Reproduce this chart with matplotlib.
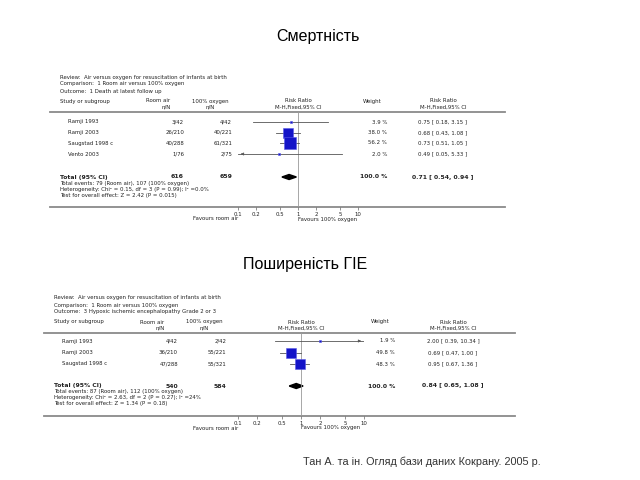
import numpy as np
import matplotlib
matplotlib.use('Agg')
import matplotlib.pyplot as plt
from matplotlib.patches import Polygon
from matplotlib.ticker import FixedLocator, FixedFormatter, NullLocator

# ---- data, panel 1 (mortality) ----
title_1 = 'Смертність'
outcome_1 = 'Outcome:  1 Death at latest follow up'
studies_1 = ['Ramji 1993', 'Ramji 2003', 'Saugstad 1998 c', 'Vento 2003']
room_air_1 = ['3/42', '26/210', '40/288', '1/76']
oxygen_1 = ['4/42', '40/221', '61/321', '2/75']
rr_1 = [0.75, 0.68, 0.73, 0.49]
lo_1 = [0.18, 0.43, 0.51, 0.05]
hi_1 = [3.15, 1.08, 1.05, 5.33]
weight_1 = [3.9, 38.0, 56.2, 2.0]
total_1 = [0.71, 0.54, 0.94]
n_total_1 = ['616', '659']
notes_1 = ['Total events: 79 (Room air), 107 (100% oxygen)',
           'Heterogeneity: Chi² = 0.15, df = 3 (P = 0.99); I² =0.0%',
           'Test for overall effect: Z = 2.42 (P = 0.015)']

# ---- data, panel 2 (HIE) ----
title_2 = 'Поширеність ГІЕ'
outcome_2 = 'Outcome:  3 Hypoxic ischemic encephalopathy Grade 2 or 3'
studies_2 = ['Ramji 1993', 'Ramji 2003', 'Saugstad 1998 c']
room_air_2 = ['4/42', '36/210', '47/288']
oxygen_2 = ['2/42', '55/221', '55/321']
rr_2 = [2.00, 0.69, 0.95]
lo_2 = [0.39, 0.47, 0.67]
hi_2 = [10.34, 1.00, 1.36]
weight_2 = [1.9, 49.8, 48.3]
total_2 = [0.84, 0.65, 1.08]
n_total_2 = ['540', '584']
notes_2 = ['Total events: 87 (Room air), 112 (100% oxygen)',
           'Heterogeneity: Chi² = 2.63, df = 2 (P = 0.27); I² =24%',
           'Test for overall effect: Z = 1.34 (P = 0.18)']

review = 'Review:  Air versus oxygen for resuscitation of infants at birth'
comparison = 'Comparison:  1 Room air versus 100% oxygen'
ticks = [0.1, 0.2, 0.5, 1, 2, 5, 10]
tick_labels = ['0.1', '0.2', '0.5', '1', '2', '5', '10']
source = 'Тан А. та ін. Огляд бази даних Кокрану. 2005 р.'

FS = 3.9
W, H = 640, 480
fig = plt.figure(figsize=(6.4, 4.8), dpi=100)
bg = fig.add_axes([0, 0, 1, 1])
bg.set_xlim(0, W)
bg.set_ylim(H, 0)
bg.axis('off')


def txt(x, y, s, ha='left', bold=False, size=FS):
    bg.text(x, y, s, ha=ha, va='center', fontsize=size,
            fontweight='bold' if bold else 'normal', family='DejaVu Sans', color='#222222')


def panel(title, tx, ty, outcome, studies, ra, ox, rr, lo, hi, wt, tot, ntot, notes,
          left, right, x0, x1, top, rows, total_y, axis_y, wx, cix):
    bg.text(tx, ty, title, ha='center', va='center', fontsize=11.5, family='Liberation Sans')
    lx = left + 10
    txt(lx, top - 35, review)
    txt(lx, top - 28, comparison)
    txt(lx, top - 21, outcome)
    txt(lx, top - 11, 'Study or subgroup')
    txt(lx + 98, top - 11, 'Room air', ha='center')
    txt(lx + 106, top - 5, 'n/N', ha='center')
    txt(lx + 150, top - 11, '100% oxygen', ha='center')
    txt(lx + 150, top - 5, 'n/N', ha='center')
    xm = x0 + (x1 - x0) / 2
    txt(xm, top - 11, 'Risk Ratio', ha='center')
    txt(xm, top - 5, 'M-H,Fixed,95% CI', ha='center')
    txt(wx - 15, top - 11, 'Weight', ha='center')
    txt(cix, top - 11, 'Risk Ratio', ha='center')
    txt(cix, top - 5, 'M-H,Fixed,95% CI', ha='center')
    bg.plot([left, right], [top, top], color='#8a8a8a', lw=1.3)
    bg.plot([left, right], [axis_y, axis_y], color='#8a8a8a', lw=1.3)

    for i, y in enumerate(rows):
        txt(lx + 8, y, studies[i])
        txt(lx + 124, y, ra[i], ha='right')
        txt(lx + 172, y, ox[i], ha='right')
        txt(wx, y, '%.1f %%' % wt[i], ha='right')
        txt(cix, y, '%.2f [ %.2f, %.2f ]' % (rr[i], lo[i], hi[i]), ha='center')
    txt(lx, total_y, 'Total (95% CI)', bold=True, size=FS + 0.5)
    txt(lx + 124, total_y, ntot[0], ha='right', bold=True, size=FS + 0.5)
    txt(lx + 172, total_y, ntot[1], ha='right', bold=True, size=FS + 0.5)
    txt(wx, total_y, '100.0 %', ha='right', bold=True, size=FS + 0.5)
    txt(cix, total_y, '%.2f [ %.2f, %.2f ]' % tuple(tot), ha='center', bold=True, size=FS + 0.5)
    for k, s in enumerate(notes):
        txt(lx, total_y + 6 + 6 * k, s)
    txt(x0, axis_y + 12, 'Favours room air', ha='right')
    txt(xm, axis_y + 12, 'Favours 100% oxygen', ha='left')

    fa = fig.add_axes([x0 / W, 1 - axis_y / H, (x1 - x0) / W, (axis_y - top) / H])
    fa.set_xscale('log')
    fa.set_xlim(0.1, 10)
    fa.set_ylim(axis_y, top)
    fa.patch.set_alpha(0)
    for sp in fa.spines.values():
        sp.set_visible(False)
    fa.xaxis.set_major_locator(FixedLocator(ticks))
    fa.xaxis.set_major_formatter(FixedFormatter(tick_labels))
    fa.xaxis.set_minor_locator(NullLocator())
    fa.set_yticks([])
    fa.tick_params(axis='x', length=2, width=0.5, color='#666666', labelsize=FS,
                   pad=1.5, labelcolor='#222222')
    fa.axvline(1, color='#999999', lw=0.6)

    for i, y in enumerate(rows):
        a = max(lo[i], 0.1)
        b = min(hi[i], 10)
        fa.plot([a, b], [y, y], color='#555555', lw=0.6)
        if lo[i] < 0.1:
            fa.annotate('', xy=(0.1, y), xytext=(0.13, y),
                        arrowprops=dict(arrowstyle='-|>', lw=0.5, color='#555555', mutation_scale=4))
        if hi[i] > 10:
            fa.annotate('', xy=(10, y), xytext=(7.7, y),
                        arrowprops=dict(arrowstyle='-|>', lw=0.5, color='#555555', mutation_scale=4))
        fa.plot(rr[i], y, 's', ms=np.sqrt(wt[i]) * 1.08, color='#1414c8',
                mec='#5a5ae6', mew=0.4)
    est, a, b = tot
    fa.add_patch(Polygon([(a, total_y), (est, total_y - 2.5), (b, total_y), (est, total_y + 2.5)],
                         closed=True, color='black'))


panel(title_1, 318, 36, outcome_1, studies_1, room_air_1, oxygen_1, rr_1, lo_1, hi_1,
      weight_1, total_1, n_total_1, notes_1,
      left=50, right=505, x0=238, x1=358, top=112, rows=[122, 132.5, 143, 154],
      total_y=177, axis_y=207, wx=387, cix=443)

panel(title_2, 305, 265, outcome_2, studies_2, room_air_2, oxygen_2, rr_2, lo_2, hi_2,
      weight_2, total_2, n_total_2, notes_2,
      left=44, right=515, x0=238, x1=364, top=333, rows=[341, 352.5, 364],
      total_y=386, axis_y=416, wx=395, cix=453)

bg.text(303, 462, source, ha='left', va='center', fontsize=7.8, family='Liberation Sans',
        color='#333333')

fig.savefig('out.png', dpi=100)
